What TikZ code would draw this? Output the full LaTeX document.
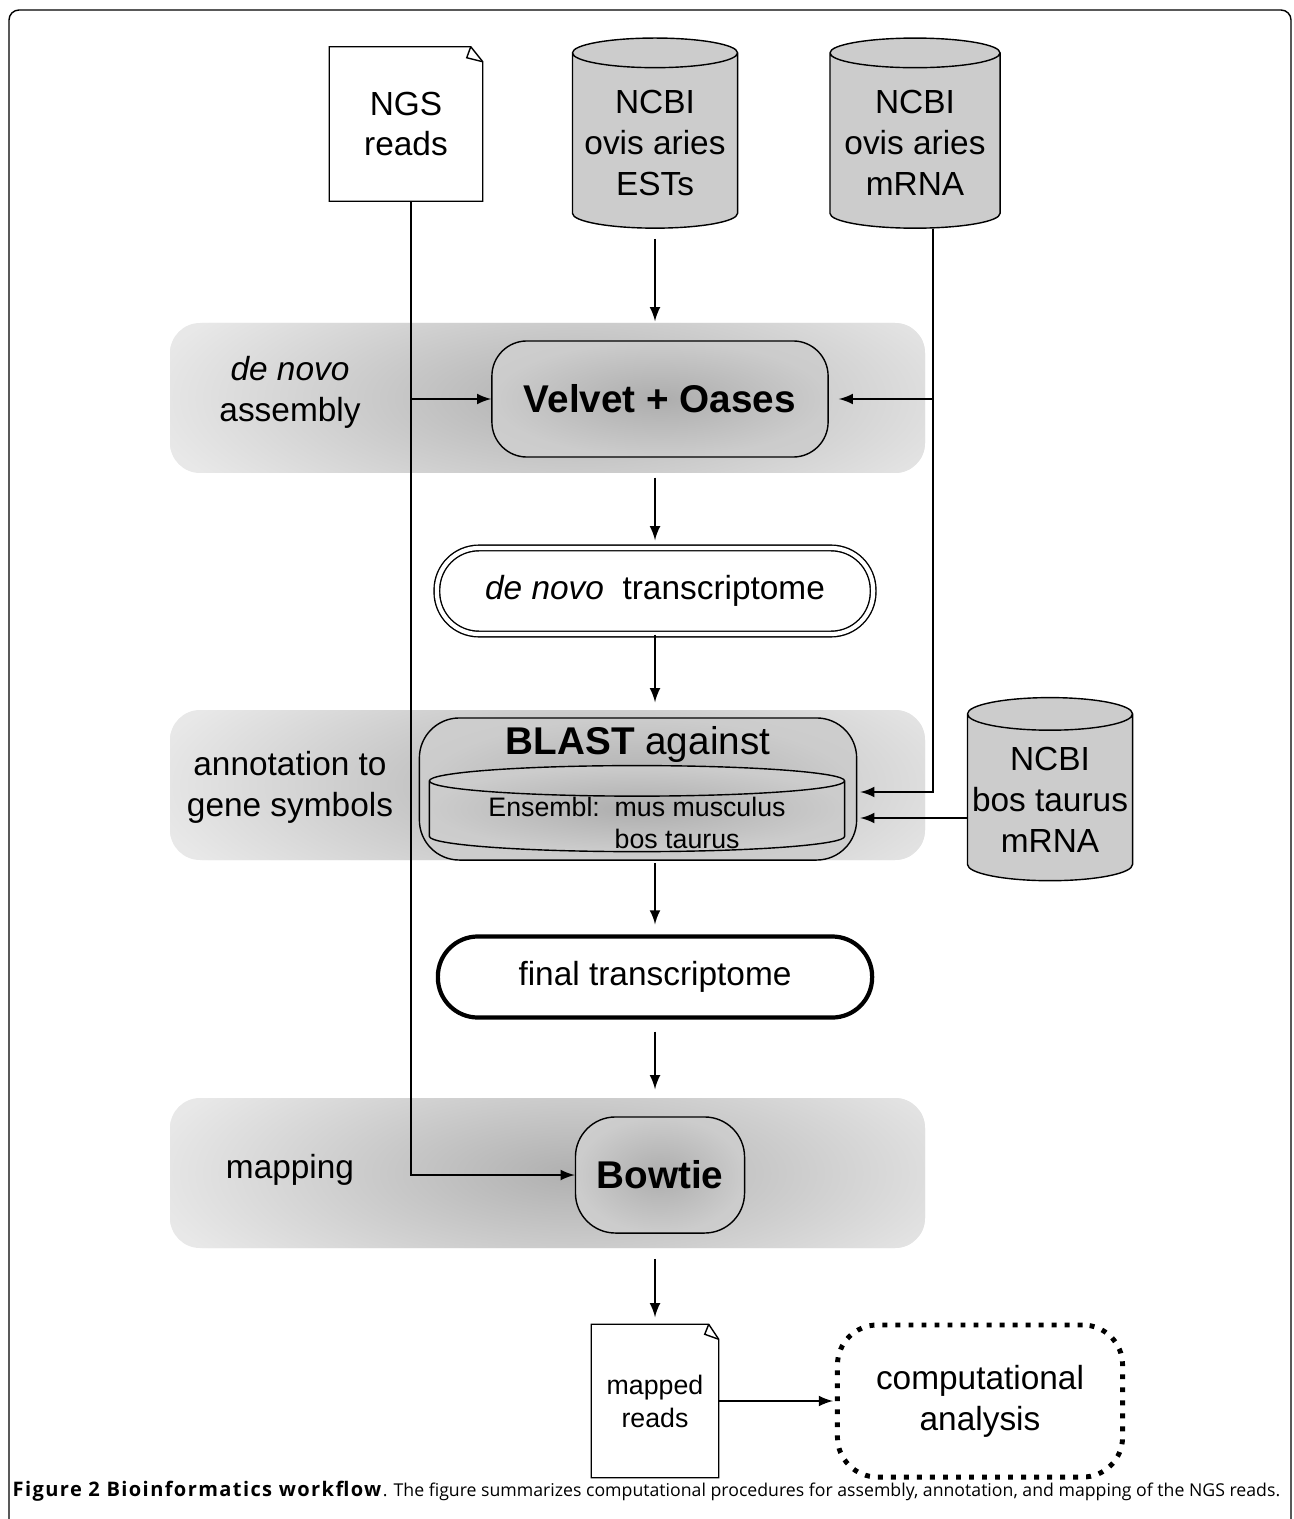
\documentclass[tikz,border=0pt]{standalone}
\usepackage{fontspec}
\setmainfont{Liberation Sans}
\newfontfamily\capfont{Open Sans}
\usetikzlibrary{shapes.geometric,positioning}

\pgfdeclareradialshading{bandglow}{\pgfpoint{0bp}{0bp}}{color(0bp)=(black!31); color(25bp)=(black!9); color(50bp)=(black!9)}
\pgfdeclareradialshading{boxglow}{\pgfpoint{0bp}{0bp}}{color(0bp)=(black!32); color(25bp)=(black!20); color(50bp)=(black!18)}

\tikzset{
  band/.style={fill=black!9, rounded corners=0.3cm},
  procbox/.style={draw, rounded corners=0.35cm, shade, shading=boxglow, font=\fontsize{11}{13}\selectfont\bfseries},
  dbase/.style={draw, cylinder, shape border rotate=90, aspect=0.2, fill=black!20, align=center, inner sep=1pt},
  termbox/.style={draw, fill=white, align=center, rounded corners=0.42cm},
  docbox/.style={minimum width=1.52cm, minimum height=1.53cm, align=center},
  flow/.style={-latex},
  lbl/.style={align=center}
}

\begin{document}
\begin{tikzpicture}[x=0.01cm, y=-0.01cm, font=\fontsize{9.5}{11.6}\selectfont]
    \useasboundingbox (0,0) rectangle (1293,1519);
    % frame
    \draw[rounded corners=0.1cm] (9,1530) -- (9,10) -- (1291,10) -- (1291,1530);

    % stage bands
    \fill[band, path picture={\shade[shading=bandglow] (575,398) ellipse (4.3cm and 1.5cm);}] (170,323) rectangle (925,473);
    \fill[band, path picture={\shade[shading=bandglow] (575,785) ellipse (4.3cm and 1.5cm);}] (170,710) rectangle (925,860);
    \fill[band, path picture={\shade[shading=bandglow] (575,1173) ellipse (4.3cm and 1.5cm);}] (170,1098) rectangle (925,1248);
    \node[lbl] (lasm) at (290,392) {\textit{de novo}\\assembly};
    \node[lbl] (lann) at (290,787) {annotation to\\gene symbols};
    \node[lbl] (lmap) at (290,1170) {mapping};

    % inputs
    \node[docbox] (ngs) at (406,124) {NGS\\reads};
    \draw (ngs.south west) -- (ngs.north west) -- ([xshift=-0.12cm]ngs.north east) -- ([yshift=-0.15cm]ngs.north east) -- (ngs.south east) -- cycle;
    \draw ([xshift=-0.12cm]ngs.north east) -- ([xshift=-0.16cm,yshift=-0.11cm]ngs.north east) -- ([yshift=-0.15cm]ngs.north east);
    \node[dbase, minimum width=1.65cm, minimum height=1.9cm] (ests) at (655,143) {NCBI\\ovis aries\\ESTs};
    \node[dbase, minimum width=1.7cm, minimum height=1.9cm] (ovis) at (915,143) {NCBI\\ovis aries\\mRNA};
    \node[dbase, minimum width=1.65cm, minimum height=1.83cm] (bos) at (1050,800) {NCBI\\bos taurus\\mRNA};

    % pipeline
    \node[procbox, minimum width=3.36cm, minimum height=1.16cm] (velvet) at (660,399) {Velvet + Oases};
    \node[termbox, double, double distance=1.2pt, minimum width=4.36cm, minimum height=0.86cm] (denovo) at (655,591) {\textit{de novo}\ \ transcriptome};
    \node[procbox, minimum width=4.37cm, minimum height=1.42cm, rounded corners=0.4cm] (blast) at (638,789) {};
    \node[below=-1pt of blast.north, font=\fontsize{11}{13}\selectfont] (blasttxt) {\textbf{BLAST} against};
    \node[dbase, shade, shading=boxglow, aspect=0.075, minimum width=4.15cm, minimum height=0.86cm] (ensembl) at (637,818) {\rule{4.0cm}{0pt}};
    \node[font=\fontsize{7.6}{9.2}\selectfont, inner sep=0pt] (enstxt) at (637,826) {\begin{tabular}{@{}l@{\ \ }l@{}}Ensembl: & mus musculus\\ & bos taurus\end{tabular}};
    \node[termbox, line width=1.2pt, minimum width=4.34cm, minimum height=0.81cm, rounded corners=0.4cm] (final) at (655,977) {final transcriptome};
    \node[procbox, minimum width=1.69cm, minimum height=1.16cm, rounded corners=0.4cm] (bowtie) at (660,1175) {Bowtie};
    \node[docbox, minimum width=1.26cm, minimum height=1.52cm, font=\fontsize{7.6}{9.4}\selectfont] (mapped) at (655,1401) {mapped\\reads};
    \draw (mapped.south west) -- (mapped.north west) -- ([xshift=-0.1cm]mapped.north east) -- ([yshift=-0.15cm]mapped.north east) -- (mapped.south east) -- cycle;
    \draw ([xshift=-0.1cm]mapped.north east) -- ([xshift=-0.14cm,yshift=-0.1cm]mapped.north east) -- ([yshift=-0.15cm]mapped.north east);
    \node[draw, line width=1.4pt, dash pattern=on 1.4pt off 2.3pt, rounded corners=0.4cm, minimum width=2.85cm, minimum height=1.52cm, align=center] (comp) at (980,1401) {computational\\analysis};

    % connectors
    \draw[flow, shorten <=0.1cm, shorten >=0.19cm] (ests.south) -- (ests.south |- velvet.north);
    \draw[flow] ([xshift=0.05cm]ngs.south) |- (bowtie.west);
    \draw[flow] ([xshift=0.05cm]ngs.south |- velvet.west) -- (velvet.west);
    \draw[flow, shorten >=0.03cm] ([xshift=0.18cm]ovis.south) |- ([yshift=-0.03cm]blast.east);
    \draw[flow, shorten >=0.1cm] ([xshift=0.18cm]ovis.south |- velvet.east) -- (velvet.east);
    \draw[flow, shorten >=0.03cm] ([yshift=-0.18cm]bos.west) -- ([yshift=-0.18cm]bos.west -| blast.east);
    \draw[flow, shorten <=0.2cm, shorten >=0.07cm] (denovo.north |- velvet.south) -- (denovo.north);
    \draw[flow, shorten >=0.15cm] (denovo.south) -- (denovo.south |- blast.north);
    \draw[flow, shorten <=0.02cm, shorten >=0.1cm] (final.north |- blast.south) -- (final.north);
    \draw[flow, shorten <=0.12cm, shorten >=0.27cm] (final.south) -- (final.south |- bowtie.north);
    \draw[flow, shorten <=0.25cm, shorten >=0.07cm] (mapped.north |- bowtie.south) -- (mapped.north);
    \draw[flow, shorten >=0.02cm] (mapped.east) -- (comp.west);

    % caption
    \node[anchor=west, inner sep=0pt, font=\capfont\fontsize{5.03}{6}\selectfont] (caption) at (12,1491) {{\fontsize{5.7}{6}\selectfont\addfontfeature{LetterSpace=7}\textbf{Figure 2 Bioinformatics workflow}}. The figure summarizes computational procedures for assembly, annotation, and mapping of the NGS reads.};
\end{tikzpicture}
\end{document}
